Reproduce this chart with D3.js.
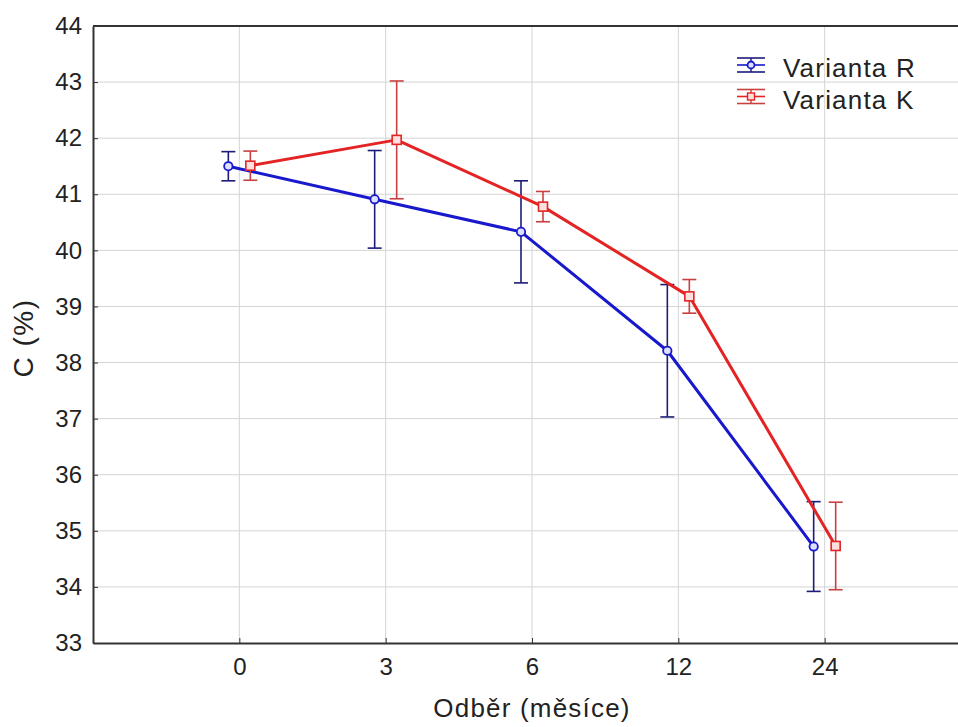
<!DOCTYPE html>
<html>
<head>
<meta charset="utf-8">
<title>Odběr - C (%)</title>
<script src="https://d3js.org/d3.v7.min.js"></script>
<style>
  body { margin: 0; background: #fff; }
  svg text { font-family: "Liberation Sans", Arial, sans-serif; fill: #222; }
</style>
</head>
<body>
<div id="chart"></div>
<script>
// data
var odber = ["0", "3", "6", "12", "24"];
var yTicks = [33, 34, 35, 36, 37, 38, 39, 40, 41, 42, 43, 44];

var meanR = [41.50, 40.91, 40.33, 38.21, 34.72];
var errR  = [0.26, 0.87, 0.91, 1.18, 0.80];

var meanK = [41.51, 41.97, 40.78, 39.18, 34.73];
var errK  = [0.26, 1.05, 0.27, 0.30, 0.78];

var series = [
  { name: "Varianta R", mean: meanR, err: errR, line: "#1818cc", bar: "#1c1c78", shift: -11, shape: "circle" },
  { name: "Varianta K", mean: meanK, err: errK, line: "#e42424", bar: "#c94040", shift: 11, shape: "square" }
];

var W = 958, H = 727;
// note: "top" is taken by window.top, so use plotTop
var plotLeft = 93, plotTop = 26, plotBottom = 643, plotRight = 971;

var svg = d3.select("#chart").append("svg")
  .attr("width", W).attr("height", H);

var x = d3.scalePoint().domain(odber).range([plotLeft, plotRight]).padding(1);
var y = d3.scaleLinear().domain([33, 44]).range([plotBottom, plotTop]);

// grid
svg.append("g").selectAll("line")
  .data(yTicks.slice(1, -1)).enter().append("line")
  .attr("x1", plotLeft).attr("x2", W)
  .attr("y1", function(d) { return y(d); }).attr("y2", function(d) { return y(d); })
  .attr("stroke", "#d4d4d4").attr("stroke-width", 1);

svg.append("g").selectAll("line")
  .data(odber).enter().append("line")
  .attr("x1", function(d) { return x(d); }).attr("x2", function(d) { return x(d); })
  .attr("y1", plotTop).attr("y2", plotBottom)
  .attr("stroke", "#d4d4d4").attr("stroke-width", 1);

// axes
var yAxis = svg.append("g")
  .attr("transform", "translate(" + plotLeft + ",0)")
  .call(d3.axisLeft(y).tickValues(yTicks).tickFormat(d3.format("d")).tickSizeInner(-5).tickSizeOuter(0).tickPadding(11));
var xAxis = svg.append("g")
  .attr("transform", "translate(0," + plotBottom + ")")
  .call(d3.axisBottom(x).tickSizeInner(-5).tickSizeOuter(0).tickPadding(15));

[yAxis, xAxis].forEach(function(a) {
  a.select(".domain").attr("stroke", "#333").attr("stroke-width", 2);
  a.selectAll(".tick line").attr("stroke", "#333");
  a.selectAll(".tick text").style("font-size", "24px").attr("fill", "#222");
});

// top frame
svg.append("line")
  .attr("x1", plotLeft).attr("x2", W).attr("y1", plotTop).attr("y2", plotTop)
  .attr("stroke", "#333").attr("stroke-width", 2);

// axis titles
svg.append("text")
  .attr("x", 532).attr("y", 717)
  .attr("text-anchor", "middle")
  .style("font-size", "26px")
  .style("letter-spacing", "1.2px")
  .text("Odběr (měsíce)");

svg.append("text")
  .attr("transform", "translate(33,338) rotate(-90)")
  .attr("text-anchor", "middle")
  .style("font-size", "28px")
  .style("letter-spacing", "1.5px")
  .text("C (%)");

// series
series.forEach(function(s) {
  var px = function(d, i) { return x(odber[i]) + s.shift; };
  var g = svg.append("g");

  g.append("path")
    .datum(s.mean)
    .attr("fill", "none")
    .attr("stroke", s.line)
    .attr("stroke-width", 3)
    .attr("stroke-linejoin", "round")
    .attr("d", d3.line().x(px).y(function(d) { return y(d); }));

  var eb = g.selectAll("g.eb").data(s.mean).enter().append("g").attr("class", "eb");
  eb.append("line")
    .attr("x1", px).attr("x2", px)
    .attr("y1", function(d, i) { return y(d + s.err[i]); })
    .attr("y2", function(d, i) { return y(d - s.err[i]); })
    .attr("stroke", s.bar).attr("stroke-width", 1.6);
  eb.append("line")
    .attr("x1", function(d, i) { return px(d, i) - 7; })
    .attr("x2", function(d, i) { return px(d, i) + 7; })
    .attr("y1", function(d, i) { return y(d + s.err[i]); })
    .attr("y2", function(d, i) { return y(d + s.err[i]); })
    .attr("stroke", s.bar).attr("stroke-width", 1.6);
  eb.append("line")
    .attr("x1", function(d, i) { return px(d, i) - 7; })
    .attr("x2", function(d, i) { return px(d, i) + 7; })
    .attr("y1", function(d, i) { return y(d - s.err[i]); })
    .attr("y2", function(d, i) { return y(d - s.err[i]); })
    .attr("stroke", s.bar).attr("stroke-width", 1.6);

  if (s.shape == "circle") {
    g.selectAll("circle").data(s.mean).enter().append("circle")
      .attr("cx", px).attr("cy", function(d) { return y(d); })
      .attr("r", 4.2)
      .attr("fill", "#dde0ff").attr("stroke", s.line).attr("stroke-width", 1.8);
  } else {
    g.selectAll("rect").data(s.mean).enter().append("rect")
      .attr("x", function(d, i) { return px(d, i) - 4.5; })
      .attr("y", function(d) { return y(d) - 4.5; })
      .attr("width", 9).attr("height", 9)
      .attr("fill", "#ffe0e0").attr("stroke", s.line).attr("stroke-width", 1.6);
  }
});

// legend
var legend = svg.append("g");
series.forEach(function(s, i) {
  var cy = 65 + i * 31.5;
  var lg = legend.append("g");
  lg.append("line").attr("x1", 737).attr("x2", 765).attr("y1", cy).attr("y2", cy)
    .attr("stroke", s.line).attr("stroke-width", 1.6);
  lg.append("line").attr("x1", 737).attr("x2", 765).attr("y1", cy - 7).attr("y2", cy - 7)
    .attr("stroke", s.bar).attr("stroke-width", 1.6);
  lg.append("line").attr("x1", 737).attr("x2", 765).attr("y1", cy + 7).attr("y2", cy + 7)
    .attr("stroke", s.bar).attr("stroke-width", 1.6);
  lg.append("line").attr("x1", 751).attr("x2", 751).attr("y1", cy - 7).attr("y2", cy + 7)
    .attr("stroke", s.bar).attr("stroke-width", 1.4);
  if (s.shape == "circle") {
    lg.append("circle").attr("cx", 751).attr("cy", cy).attr("r", 3.5)
      .attr("fill", "#dde0ff").attr("stroke", s.line).attr("stroke-width", 1.8);
  } else {
    lg.append("rect").attr("x", 747.5).attr("y", cy - 3.5).attr("width", 7).attr("height", 7)
      .attr("fill", "#ffe0e0").attr("stroke", s.line).attr("stroke-width", 1.4);
  }
  lg.append("text").attr("x", 783).attr("y", cy + 12)
    .style("font-size", "26px")
    .style("letter-spacing", "1.2px")
    .text(s.name);
});
</script>
</body>
</html>
